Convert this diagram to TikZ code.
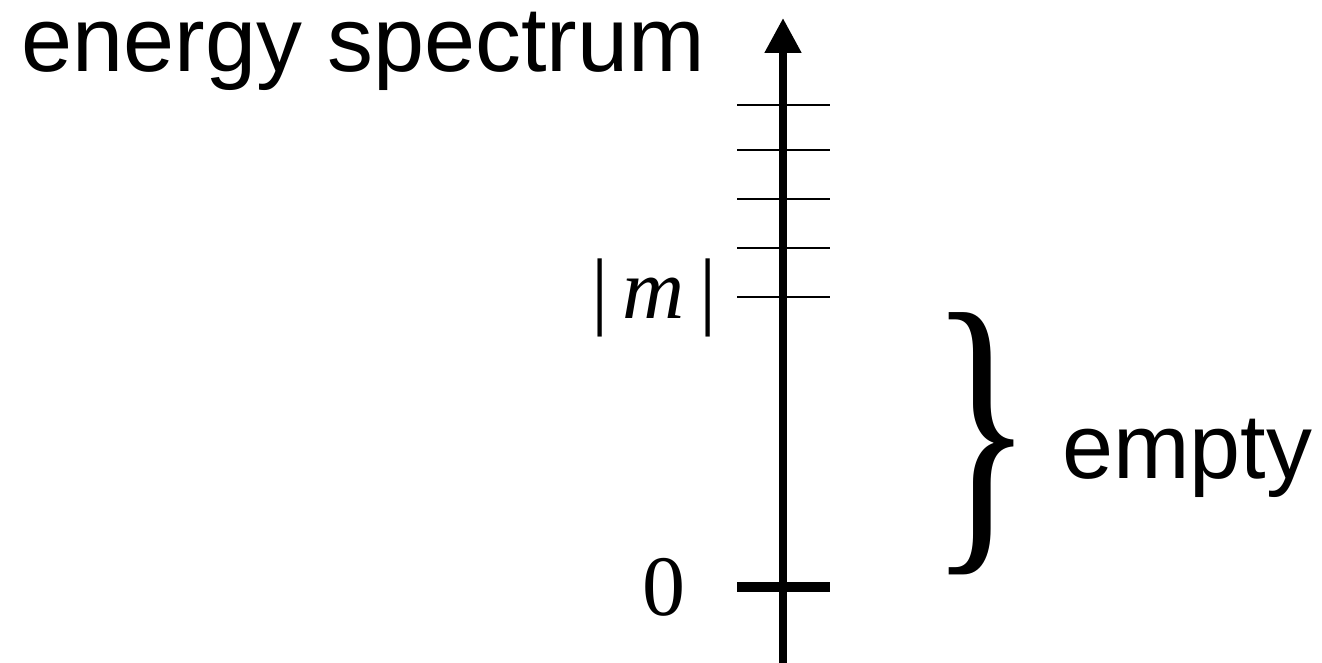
\documentclass[tikz,border=0pt]{standalone}
\usepackage{fontspec}
\usepackage{graphicx}
\newfontfamily\labelfont{Liberation Sans}
\newfontfamily\levelfont{Liberation Serif}
\usetikzlibrary{arrows.meta}

\begin{document}
\begin{tikzpicture}[x=0.5pt,y=-0.5pt,
  lbl/.style={inner sep=0pt,font=\labelfont\fontsize{45.9pt}{46pt}\selectfont},
  lvl/.style={inner sep=0pt,font=\levelfont\fontsize{43pt}{43pt}\selectfont},
  axis/.style={line width=4pt,-{Triangle[length=17.5pt,width=17.5pt]}},
  level/.style={line width=1.4pt},
  ground/.style={line width=5.3pt}]
\useasboundingbox (0,0) rectangle (1322,663);
\coordinate (bot) at (783,663);
\coordinate (top) at (783,18);
\draw[axis] (bot) -- (top);
% levels above the gap
\foreach \y in {105,150,199,248,297}
  \draw[level] (737,\y) -- (830,\y);
\draw[ground] (737,587) -- (830,587);
\node[lbl,anchor=base west] (title) at (21,72) {energy spectrum};
\node[lvl,anchor=base] (mass) at (654,318) {|\kern7pt\textit{m}\kern7pt|};
\node[lvl,anchor=base] (zero) at (664,615) {0};
\node[inner sep=0pt] (brace) at (982,444)
  {\resizebox*{52pt}{131pt}{\levelfont\}}};
\node[lbl,anchor=base west] (empty) at (1062,478) {empty};
\end{tikzpicture}
\end{document}
